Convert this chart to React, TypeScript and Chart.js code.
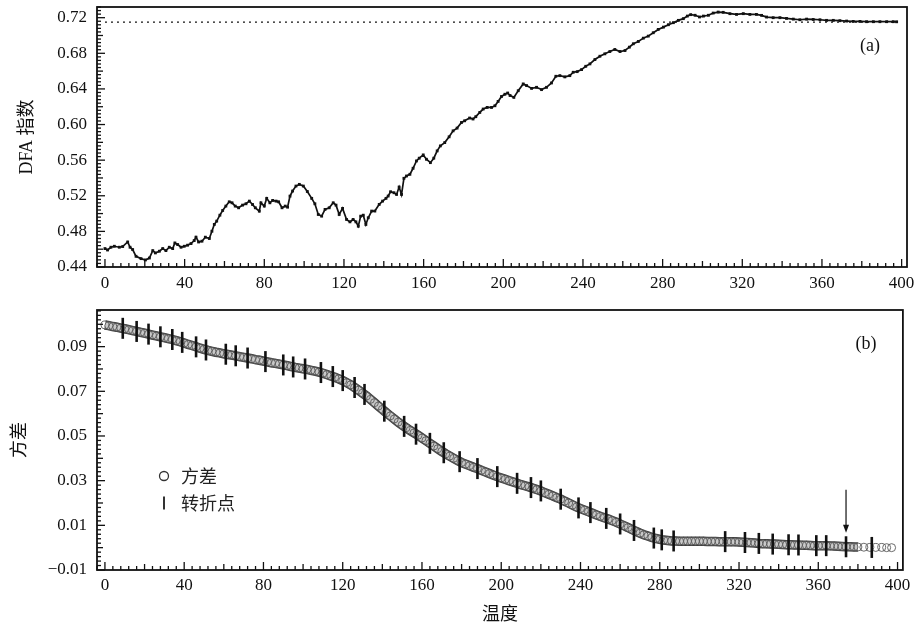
import React, { useEffect, useRef } from 'react';
import { Chart, registerables } from 'chart.js';

Chart.register(...registerables);

// ---- axis tick labels ----
const tempTicks = [0, 40, 80, 120, 160, 200, 240, 280, 320, 360, 400];
const dfaTicks = [0.44, 0.48, 0.52, 0.56, 0.6, 0.64, 0.68, 0.72];
const varTicks = [-0.01, 0.01, 0.03, 0.05, 0.07, 0.09];

// ---- panel (a): DFA exponent vs temperature ----
const dfaTemp = [
  0, 1.3, 3, 4.7, 7.2, 8.9, 11.4, 12.6, 13.9, 15.6, 18.1, 20.3, 22.3, 24, 25.3, 27.3, 29, 30.6, 32.3, 34,
  35.1, 36.5, 38.2, 39.8, 41.5, 43.2, 44.8, 45.7, 47, 48.7, 50.4, 52.4, 53.7, 54.9, 56.1, 57.7, 59.1, 60.7, 62.4, 63.8,
  65.4, 67.1, 69.1, 70.8, 72.5, 74.1, 75.5, 77.5, 78.3, 80, 81.2, 82.8, 84.2, 85.9, 87.2, 88.9, 90.5, 91.7, 92.9, 94.2,
  95.9, 97.6, 99.6, 101.6, 103.8, 105.4, 107.1, 108.8, 110.5, 112.6, 114.6, 116, 117.6, 119.3, 121.3, 123, 124.6, 126, 127.2, 128.4,
  129.7, 131, 132.2, 133.9, 135.5, 137.7, 139.4, 141.1, 142.2, 143.4, 145.1, 146.4, 147.7, 148.9, 150.1, 151.4, 153.1, 154.7, 156.4, 157.8,
  159.8, 161.4, 163.4, 165.1, 166.8, 168.4, 170.6, 172.8, 174.8, 176.8, 179, 180.6, 183.1, 184.8, 186.2, 188.2, 189.9, 191.9, 194.1, 195.8,
  197.4, 199.1, 200.8, 202.2, 203.4, 205.3, 207.5, 210, 211.7, 214.2, 216.7, 219.2, 221.7, 224.2, 226.4, 228.4, 230.9, 233.4, 235.1, 237.1,
  239.3, 241.4, 243.5, 246, 248.5, 251, 253.5, 256, 258.6, 261.1, 263.3, 265.3, 267.8, 270.3, 272.8, 275.3, 277.8, 280.4, 282.9, 285.4,
  287.9, 290.4, 292.4, 294.1, 296.3, 298.5, 300.5, 303, 305.4, 307.9, 310.4, 313.8, 317.1, 320.5, 323.8, 327.1, 329.7, 332.2, 335.5, 338.9,
  342.2, 345.6, 348.9, 352.3, 355.6, 359, 362.3, 365.7, 369, 372.4, 375.7, 379.1, 382.4, 385.8, 389.1, 392.5, 395.8, 397.5,
];
const dfaValue = [
  0.4607, 0.4591, 0.4622, 0.4633, 0.4622, 0.463, 0.4681, 0.4622, 0.4596, 0.452, 0.4494, 0.4479, 0.4501, 0.4584, 0.4558, 0.4577, 0.4607, 0.4584, 0.4622, 0.4607,
  0.467, 0.4652, 0.4622, 0.4633, 0.4645, 0.4663, 0.4697, 0.4735, 0.4681, 0.469, 0.4735, 0.472, 0.4802, 0.4878, 0.4915, 0.4982, 0.5035, 0.5084, 0.5132, 0.5121,
  0.5084, 0.5065, 0.5095, 0.511, 0.514, 0.5102, 0.5065, 0.5027, 0.5121, 0.5084, 0.5171, 0.5121, 0.5148, 0.514, 0.5132, 0.5065, 0.5084, 0.5072, 0.5196, 0.5253,
  0.5309, 0.5328, 0.5309, 0.5248, 0.5171, 0.511, 0.499, 0.4971, 0.5047, 0.5065, 0.5121, 0.5095, 0.499, 0.5058, 0.4934, 0.4907, 0.4934, 0.4907, 0.4858, 0.4971,
  0.4982, 0.4878, 0.4953, 0.5028, 0.5028, 0.5103, 0.514, 0.5171, 0.5197, 0.5245, 0.5234, 0.5215, 0.5298, 0.5215, 0.5396, 0.5422, 0.5441, 0.5509, 0.5591, 0.5622,
  0.5659, 0.561, 0.5572, 0.5622, 0.5704, 0.576, 0.5797, 0.5862, 0.5929, 0.596, 0.6023, 0.6042, 0.6073, 0.6062, 0.6088, 0.6136, 0.6174, 0.6192, 0.6192, 0.6211,
  0.626, 0.6315, 0.634, 0.6354, 0.6326, 0.6305, 0.638, 0.6456, 0.6437, 0.6406, 0.6418, 0.6392, 0.6418, 0.6467, 0.6542, 0.6549, 0.6535, 0.6549, 0.6587, 0.6594,
  0.6617, 0.6654, 0.6681, 0.673, 0.6767, 0.6794, 0.682, 0.6843, 0.682, 0.6831, 0.6869, 0.6907, 0.6933, 0.697, 0.6993, 0.7031, 0.7068, 0.7094, 0.7121, 0.7144,
  0.717, 0.7189, 0.7218, 0.7234, 0.7227, 0.7208, 0.7218, 0.7227, 0.7252, 0.7263, 0.726, 0.7245, 0.7237, 0.7245, 0.7237, 0.7237, 0.7226, 0.7207, 0.72, 0.72,
  0.7192, 0.7184, 0.7177, 0.7184, 0.718, 0.7177, 0.717, 0.717, 0.7166, 0.7162, 0.7158, 0.7158, 0.7155, 0.7155, 0.7155, 0.7155, 0.7155, 0.7154,
];
const dfaReference = 0.715;

// ---- panel (b): variance vs temperature ----
const varTemp = [
  0, 2, 4, 6, 8, 10, 12, 14, 16, 18, 20, 22, 24, 26, 28, 30, 32, 34, 36, 38,
  40, 42, 44, 46, 48, 50, 52, 54, 56, 58, 60, 62, 64, 66, 68, 70, 72, 74, 76, 78,
  80, 82, 84, 86, 88, 90, 92, 94, 96, 98, 100, 102, 104, 106, 108, 110, 112, 114, 116, 118,
  120, 122, 124, 126, 128, 130, 132, 134, 136, 138, 140, 142, 144, 146, 148, 150, 152, 154, 156, 158,
  160, 162, 164, 166, 168, 170, 172, 174, 176, 178, 180, 182, 184, 186, 188, 190, 192, 194, 196, 198,
  200, 202, 204, 206, 208, 210, 212, 214, 216, 218, 220, 222, 224, 226, 228, 230, 232, 234, 236, 238,
  240, 242, 244, 246, 248, 250, 252, 254, 256, 258, 260, 262, 264, 266, 268, 270, 272, 274, 276, 278,
  280, 282, 284, 286, 288, 290, 292, 294, 296, 298, 300, 302, 304, 306, 308, 310, 312, 314, 316, 318,
  320, 322, 324, 326, 328, 330, 332, 334, 336, 338, 340, 342, 344, 346, 348, 350, 352, 354, 356, 358,
  360, 362, 364, 366, 368, 370, 372, 374, 376, 378, 380, 383, 386, 389, 392, 394.5, 397,
];
const varValue = [
  0.0997, 0.0994, 0.099, 0.0987, 0.0983, 0.098, 0.0976, 0.0972, 0.0968, 0.0964, 0.096, 0.0956, 0.0952, 0.0948, 0.0944, 0.094, 0.0936, 0.0932, 0.0927, 0.0922,
  0.0916, 0.091, 0.0905, 0.0899, 0.0893, 0.0888, 0.0883, 0.0879, 0.0875, 0.0872, 0.0868, 0.0865, 0.0862, 0.0859, 0.0855, 0.0852, 0.0849, 0.0846, 0.0842, 0.0839,
  0.0835, 0.0832, 0.0828, 0.0825, 0.0822, 0.0818, 0.0815, 0.0811, 0.0807, 0.0804, 0.0801, 0.0798, 0.0794, 0.079, 0.0786, 0.0781, 0.0775, 0.0769, 0.0763, 0.0756,
  0.0748, 0.0739, 0.0729, 0.0717, 0.0705, 0.0692, 0.0679, 0.0664, 0.0649, 0.0634, 0.0619, 0.0604, 0.059, 0.0576, 0.0562, 0.0549, 0.0537, 0.0525, 0.0514, 0.0503,
  0.0491, 0.0479, 0.0467, 0.0455, 0.0443, 0.0431, 0.042, 0.041, 0.04, 0.039, 0.0381, 0.0374, 0.0367, 0.036, 0.0354, 0.0346, 0.0339, 0.0332, 0.0325, 0.0318,
  0.0312, 0.0306, 0.03, 0.0294, 0.0288, 0.0282, 0.0277, 0.0272, 0.0266, 0.026, 0.0254, 0.0246, 0.0239, 0.0232, 0.0224, 0.0217, 0.0208, 0.02, 0.0191, 0.0182,
  0.0175, 0.0168, 0.0161, 0.0154, 0.0147, 0.014, 0.0134, 0.0128, 0.0121, 0.0114, 0.0106, 0.0098, 0.009, 0.0081, 0.0073, 0.0065, 0.0058, 0.0052, 0.0046, 0.0041,
  0.0037, 0.0034, 0.0032, 0.003, 0.003, 0.0029, 0.0029, 0.0029, 0.0029, 0.0029, 0.0029, 0.0029, 0.0028, 0.0028, 0.0028, 0.0027, 0.0027, 0.0027, 0.0026, 0.0026,
  0.0025, 0.0024, 0.0023, 0.0022, 0.0021, 0.0019, 0.0018, 0.0017, 0.0016, 0.0016, 0.0015, 0.0014, 0.0013, 0.0013, 0.0012, 0.0012, 0.0011, 0.0011, 0.001, 0.0009,
  0.0009, 0.0009, 0.0009, 0.0008, 0.0007, 0.0006, 0.0005, 0.0004, 0.0004, 0.0003, 0.0003, 0.0002, 0.0001, 0.0001, 0.0001, 0.0, 0.0,
];
// beyond this temperature the variance circles no longer overlap into a band
const bandEnd = 380;

// turning points detected along the variance curve
const turnTemp = [
  9, 16, 22, 28, 34, 39, 46, 51, 61, 66, 72, 81, 90, 95, 101, 109, 115, 120, 126, 131,
  141, 151, 157, 164, 171, 179, 188, 198, 208, 215, 220, 230, 239, 245, 253, 260, 267, 277, 281, 287,
  313, 323, 330, 337, 345, 350, 359, 364, 374, 387,
];
const turnValue = [
  0.0982, 0.0968, 0.0956, 0.0944, 0.0932, 0.0919, 0.0899, 0.0885, 0.0866, 0.0859, 0.0849, 0.0833, 0.0818, 0.0809, 0.08, 0.0784, 0.0766, 0.0748, 0.0717, 0.0686,
  0.0611, 0.0543, 0.0508, 0.0467, 0.0425, 0.0385, 0.0354, 0.0318, 0.0288, 0.0269, 0.0254, 0.0217, 0.0178, 0.0157, 0.0131, 0.0106, 0.0077, 0.0043, 0.0035, 0.003,
  0.0027, 0.0023, 0.0019, 0.0016, 0.0013, 0.0012, 0.0009, 0.0009, 0.0004, 0.0001,
];
const markedTurn = 374;

const SERIF = "'Liberation Serif', 'DejaVu Serif', serif";
const MIXED = "'Liberation Serif', 'Noto Sans CJK SC', serif";
const CJK = "'Noto Sans CJK SC', sans-serif";
const INK = '#111';

type TickSpec = { step: number; mid: number; labels: number[] };

// short tick marks pointing into the plot area
function drawInwardTicks(ctx: CanvasRenderingContext2D, scale: any, spec: TickSpec, area: any, vertical: boolean) {
  const n0 = Math.ceil(scale.min / spec.step - 1e-9);
  const n1 = Math.floor(scale.max / spec.step + 1e-9);
  for (let n = n0; n <= n1; n++) {
    const v = n * spec.step;
    const isLabel = spec.labels.some((l) => Math.abs(l - v) < spec.step * 1e-3);
    const r = v / spec.mid;
    const isMid = Math.abs(r - Math.round(r)) < 1e-6;
    const len = isLabel ? 8 : isMid ? 6 : 4;
    const p = scale.getPixelForValue(v);
    ctx.beginPath();
    if (vertical) {
      ctx.moveTo(area.left, p);
      ctx.lineTo(area.left + len, p);
    } else {
      ctx.moveTo(p, area.bottom);
      ctx.lineTo(p, area.bottom - len);
    }
    ctx.stroke();
  }
}

type DecorConfig = {
  xTicks: TickSpec;
  yTicks: TickSpec;
  tag: string;
  tagDx: number;
  tagDy: number;
  legend?: boolean;
  arrowAt?: number;
};

function makeDecor(cfg: DecorConfig) {
  return {
    id: 'panelDecor',
    afterDatasetsDraw(chart: any) {
      const { ctx, chartArea: area, scales } = chart;
      ctx.save();
      ctx.strokeStyle = INK;
      ctx.lineWidth = 1.3;
      drawInwardTicks(ctx, scales.x, cfg.xTicks, area, false);
      drawInwardTicks(ctx, scales.y, cfg.yTicks, area, true);

      ctx.lineWidth = 1.8;
      ctx.strokeRect(area.left, area.top, area.right - area.left, area.bottom - area.top);

      ctx.fillStyle = INK;
      ctx.font = `18px ${SERIF}`;
      ctx.textAlign = 'center';
      ctx.textBaseline = 'middle';
      ctx.fillText(cfg.tag, area.right - cfg.tagDx, area.top + cfg.tagDy);

      if (cfg.legend) {
        const byLabel = (name: string) => chart.data.datasets.find((d: any) => d.label === name);
        const circles = byLabel('方差');
        const bars = byLabel('转折点');
        const lx = area.left + 67;
        const ly1 = area.top + 166;
        const ly2 = area.top + 193;
        ctx.strokeStyle = '#333';
        ctx.lineWidth = 1.3;
        ctx.beginPath();
        ctx.arc(lx, ly1, 4.5, 0, Math.PI * 2);
        ctx.stroke();
        ctx.lineWidth = 2;
        ctx.beginPath();
        ctx.moveTo(lx, ly2 - 6.5);
        ctx.lineTo(lx, ly2 + 6.5);
        ctx.stroke();
        ctx.fillStyle = '#222';
        ctx.font = `18px ${CJK}`;
        ctx.textAlign = 'left';
        ctx.fillText(circles.label, lx + 17, ly1);
        ctx.fillText(bars.label, lx + 17, ly2);
      }

      if (cfg.arrowAt != null) {
        const i = turnTemp.indexOf(cfg.arrowAt);
        const px = scales.x.getPixelForValue(cfg.arrowAt);
        const py = scales.y.getPixelForValue(turnValue[i]);
        const tip = py - 14;
        const tail = tip - 43;
        ctx.strokeStyle = INK;
        ctx.fillStyle = INK;
        ctx.lineWidth = 1.2;
        ctx.beginPath();
        ctx.moveTo(px, tail);
        ctx.lineTo(px, tip - 6);
        ctx.stroke();
        ctx.beginPath();
        ctx.moveTo(px, tip);
        ctx.lineTo(px - 3, tip - 8);
        ctx.lineTo(px + 3, tip - 8);
        ctx.closePath();
        ctx.fill();
      }
      ctx.restore();
    },
  };
}

const fmt = (v: number) => {
  const s = Math.abs(v).toFixed(2);
  return v < 0 ? '\u2212' + s : s;
};

function xScale(height: number, padding: number, withTitle: boolean) {
  return {
    type: 'linear',
    min: -4,
    max: 402.7,
    grid: { display: false, drawTicks: false },
    border: { display: false },
    ticks: {
      font: { family: SERIF, size: 17 },
      color: INK,
      padding,
      maxRotation: 0,
      autoSkip: false,
      callback: (v: any) => String(v),
    },
    title: withTitle
      ? { display: true, text: '温度', color: INK, font: { family: CJK, size: 18 }, padding: { top: 0, bottom: 4 } }
      : { display: false },
    afterBuildTicks: (s: any) => {
      s.ticks = tempTicks.map((v) => ({ value: v }));
    },
    afterFit: (s: any) => {
      s.height = height;
      s.paddingLeft = 0;
      s.paddingRight = 0;
    },
  };
}

function yScale(min: number, max: number, ticks: number[], title: string, titlePad: number) {
  return {
    type: 'linear',
    min,
    max,
    grid: { display: false, drawTicks: false },
    border: { display: false },
    ticks: {
      font: { family: SERIF, size: 17 },
      color: INK,
      padding: 10,
      autoSkip: false,
      callback: (v: any) => fmt(Number(v)),
    },
    title: { display: true, text: title, color: INK, font: { family: MIXED, size: 18 }, padding: { top: titlePad, bottom: 0 } },
    afterBuildTicks: (s: any) => {
      s.ticks = ticks.map((v) => ({ value: v }));
    },
    afterFit: (s: any) => {
      s.width = 97;
      s.paddingTop = 0;
      s.paddingBottom = 0;
    },
  };
}

export default function App() {
  const topRef = useRef<HTMLCanvasElement>(null);
  const botRef = useRef<HTMLCanvasElement>(null);

  useEffect(() => {
    const top = new Chart(topRef.current as HTMLCanvasElement, {
      type: 'line',
      data: {
        datasets: [
          {
            label: 'DFA 指数',
            data: dfaTemp.map((t, i) => ({ x: t, y: dfaValue[i] })),
            borderColor: INK,
            borderWidth: 1.7,
            pointStyle: 'rect',
            pointRadius: 2,
            pointBackgroundColor: INK,
            pointBorderWidth: 0,
            tension: 0,
          },
          {
            label: 'reference',
            data: [
              { x: dfaTemp[0], y: dfaReference },
              { x: dfaTemp[dfaTemp.length - 1], y: dfaReference },
            ],
            borderColor: INK,
            borderWidth: 1.3,
            borderDash: [2, 4],
            pointRadius: 0,
          },
        ],
      },
      options: {
        responsive: false,
        animation: false,
        devicePixelRatio: 1,
        layout: { padding: { top: 7, right: 9, left: 0, bottom: 0 } },
        plugins: { legend: { display: false }, tooltip: { enabled: false } },
        scales: {
          x: xScale(33, 6, false) as any,
          y: yScale(0.44, 0.732, dfaTicks, 'DFA 指数', 16) as any,
        },
      },
      plugins: [
        makeDecor({
          xTicks: { step: 4, mid: 20, labels: tempTicks },
          yTicks: { step: 0.004, mid: 0.02, labels: dfaTicks },
          tag: '(a)',
          tagDx: 37,
          tagDy: 39,
        }),
      ],
    });

    const varPoints = varTemp.map((t, i) => ({ x: t, y: varValue[i] }));
    const bandPoints = varPoints.filter((p) => p.x <= bandEnd);

    const bot = new Chart(botRef.current as HTMLCanvasElement, {
      type: 'line',
      data: {
        datasets: [
          {
            label: '转折点',
            data: turnTemp.map((t, i) => ({ x: t, y: turnValue[i] })),
            showLine: false,
            pointStyle: 'line',
            pointRotation: 90,
            pointRadius: 10.5,
            pointBorderWidth: 2.6,
            pointBorderColor: INK,
          },
          {
            label: '方差',
            data: varPoints,
            showLine: false,
            pointStyle: 'circle',
            pointRadius: 4,
            pointBorderWidth: 0.9,
            pointBorderColor: '#5a5a5a',
            pointBackgroundColor: 'rgba(255,255,255,0)',
          },
          {
            // light core of the overlapping-circle band
            label: 'band-core',
            data: bandPoints,
            borderColor: '#c9c9c9',
            borderWidth: 6.5,
            pointRadius: 0,
            tension: 0,
          },
          {
            // dark rim of the overlapping-circle band
            label: 'band-rim',
            data: bandPoints,
            borderColor: '#3c3c3c',
            borderWidth: 9.5,
            pointRadius: 0,
            tension: 0,
          },
        ],
      },
      options: {
        responsive: false,
        animation: false,
        devicePixelRatio: 1,
        layout: { padding: { top: 15, right: 9, left: 0, bottom: 0 } },
        plugins: { legend: { display: false }, tooltip: { enabled: false } },
        scales: {
          x: xScale(58, 5, true) as any,
          y: yScale(-0.01, 0.1064, varTicks, '方差', 9) as any,
        },
      },
      plugins: [
        makeDecor({
          xTicks: { step: 4, mid: 20, labels: tempTicks },
          yTicks: { step: 0.002, mid: 0.01, labels: varTicks },
          tag: '(b)',
          tagDx: 37,
          tagDy: 34,
          legend: true,
          arrowAt: markedTurn,
        }),
      ],
    });

    return () => {
      top.destroy();
      bot.destroy();
    };
  }, []);

  return (
    <div style={{ position: 'absolute', left: 0, top: 0, width: 916, height: 628, background: '#fff' }}>
      <canvas ref={topRef} width={916} height={300} style={{ position: 'absolute', left: 0, top: 0 }} />
      <canvas ref={botRef} width={916} height={333} style={{ position: 'absolute', left: 0, top: 295 }} />
    </div>
  );
}
